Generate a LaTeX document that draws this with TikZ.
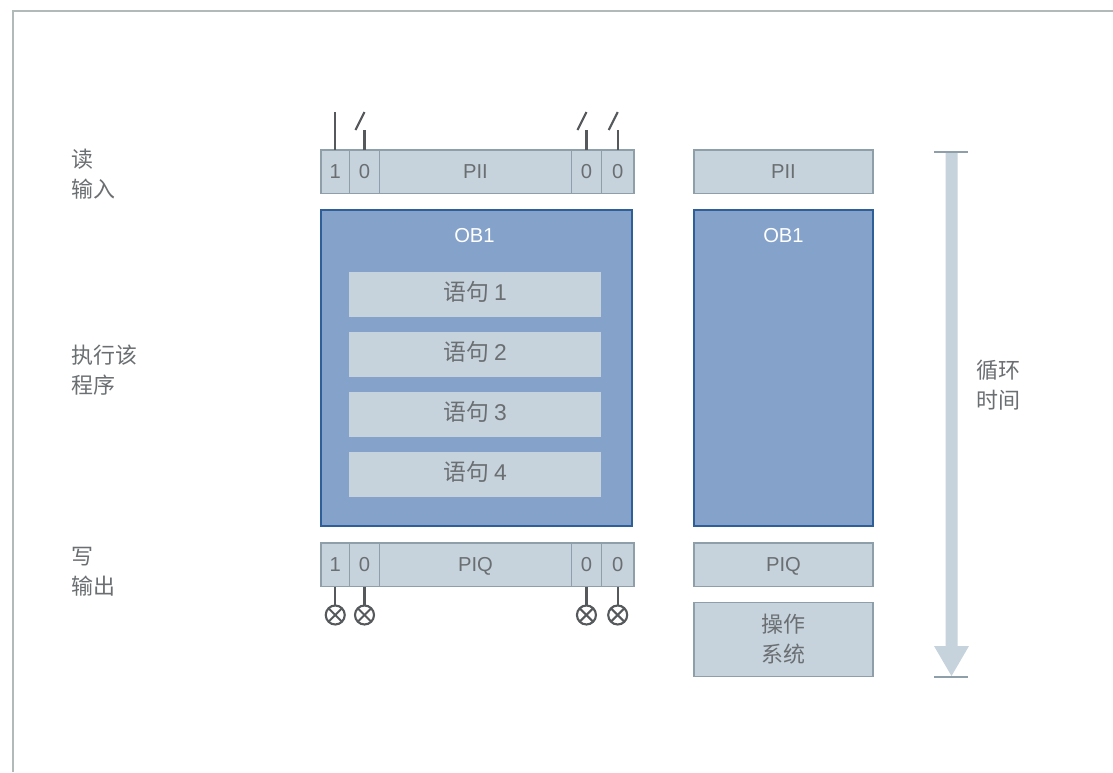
\documentclass[tikz,border=0pt]{standalone}
\usepackage{fontspec}
\setmainfont{Liberation Sans}
\newfontfamily\cjk{Noto Sans CJK SC}
\usetikzlibrary{positioning}
\definecolor{cellfill}{HTML}{C6D3DC}
\definecolor{celledge}{HTML}{8F9FA9}
\definecolor{obfill}{HTML}{84A2CA}
\definecolor{obedge}{HTML}{2F5F99}
\definecolor{labeltext}{HTML}{6B6F72}
\definecolor{wirecol}{HTML}{55595B}
\definecolor{framecol}{HTML}{B2BAB9}
\tikzset{
    cell/.style={rectangle, draw=celledge, fill=cellfill, line width=0.7pt, inner sep=0pt, outer sep=0pt,
        minimum height=0.87cm, text=labeltext, font=\fontsize{11.5}{13}\selectfont},
    flat_text/.style={text height=8.2pt, text depth=0pt},
    ob_block/.style={rectangle, draw=obedge, fill=obfill, line width=0.7pt, inner sep=0pt, outer sep=0pt},
    stmt/.style={rectangle, fill=cellfill, inner sep=0pt, outer sep=0pt, minimum width=5.04cm, minimum height=0.9cm,
        text=labeltext, text height=10pt, text depth=3.4pt, font=\fontsize{13}{15}\cjk},
    ob_title/.style={text=white, font=\fontsize{11.5}{13}\selectfont},
    side/.style={align=left, text=labeltext, inner sep=0pt, font=\fontsize{12.5}{17}\cjk},
    wire/.style={draw=wirecol, line width=1.2pt},
    lamp/.style={circle, draw=wirecol, line width=1.2pt, fill=white, minimum size=0.38cm, inner sep=0pt, outer sep=0pt,
        path picture={
            \draw[wirecol, line width=1.2pt] (path picture bounding box.north west) -- (path picture bounding box.south east);
            \draw[wirecol, line width=1.2pt] (path picture bounding box.north east) -- (path picture bounding box.south west);
        }},
}
\begin{document}
\begin{tikzpicture}
        [x=0.02cm, y=-0.02cm, node distance=0cm]
        \useasboundingbox (0,0) rectangle (1113,772);

        % Frame
        \coordinate (frame_a) at (13,772);
        \coordinate (frame_b) at (13,11);
        \coordinate (frame_c) at (1113,11);
        \draw[framecol, line width=1.4pt] (frame_a) -- (frame_b) -- (frame_c);

        % Input image
        \node[cell, anchor=north west, minimum width=0.57cm] (pii_a) at (321,150) {1};
        \node[cell, right=of pii_a, minimum width=0.6cm] (pii_b) {0};
        \node[cell, right=of pii_b, minimum width=3.84cm] (pii) {PII};
        \node[cell, right=of pii, minimum width=0.6cm] (pii_c) {0};
        \node[cell, right=of pii_c, minimum width=0.65cm] (pii_d) {0};

        % Program block with statements
        \node[ob_block, anchor=north west, minimum width=6.22cm, minimum height=6.32cm] (ob) at (321,210) {};
        \node[ob_title, below=0.24cm of ob.north, xshift=-0.04cm] (ob_label) {OB1};
        \node[stmt, anchor=north west] (stmt_a) at (349,272) {语句 {\fontspec{Liberation Sans}1}};
        \node[stmt, below=0.3cm of stmt_a] (stmt_b) {语句 {\fontspec{Liberation Sans}2}};
        \node[stmt, below=0.3cm of stmt_b] (stmt_c) {语句 {\fontspec{Liberation Sans}3}};
        \node[stmt, below=0.3cm of stmt_c] (stmt_d) {语句 {\fontspec{Liberation Sans}4}};

        % Output image
        \node[cell, anchor=north west, minimum width=0.57cm] (piq_a) at (321,543) {1};
        \node[cell, right=of piq_a, minimum width=0.6cm] (piq_b) {0};
        \node[cell, flat_text, right=of piq_b, minimum width=3.84cm] (piq) {PIQ};
        \node[cell, right=of piq, minimum width=0.6cm] (piq_c) {0};
        \node[cell, right=of piq_c, minimum width=0.65cm] (piq_d) {0};

        % Right column
        \node[cell, anchor=north west, minimum width=3.58cm] (pii_r) at (694,150) {PII};
        \node[ob_block, anchor=north west, minimum width=3.58cm, minimum height=6.32cm] (ob_r) at (694,210) {};
        \node[ob_title, below=0.24cm of ob_r.north] (ob_r_label) {OB1};
        \node[cell, flat_text, anchor=north west, minimum width=3.58cm] (piq_r) at (694,543) {PIQ};
        \node[cell, below=0.32cm of piq_r, minimum width=3.58cm, minimum height=1.48cm, align=center,
            font=\fontsize{12.5}{17}\cjk] (os) {操作\\系统};

        % Switches
        \coordinate[above=0.76cm of pii_a] (sw_a);
        \foreach \c in {b,c,d} {
            \coordinate[above=0.4cm of pii_\c] (sw_\c);
            \coordinate[above=0.76cm of pii_\c] (top_\c);
            \coordinate[left=0.18cm of sw_\c] (low_\c);
            \draw[wire] (pii_\c.north) -- (sw_\c);
            \draw[wire] (low_\c) -- (top_\c);
        }
        \draw[wire] (pii_a.north) -- (sw_a);

        % Lamps
        \foreach \c in {a,b,c,d} {
            \node[lamp, below=0.38cm of piq_\c] (lamp_\c) {};
            \draw[wire] (piq_\c.south) -- (lamp_\c.north);
        }

        % Side labels
        \node[side, anchor=north west] (read) at (71,148.5) {读\\输入};
        \node[side, anchor=north west] (run) at (71,345) {执行该\\程序};
        \node[side, anchor=north west] (write) at (71,547) {写\\输出};
        \node[side, anchor=north west] (cycle) at (976,360) {循环\\时间};

        % Cycle time arrow
        \coordinate (tick_a) at (934,152);
        \coordinate (tick_b) at (968,152);
        \coordinate (tick_c) at (934,677);
        \coordinate (tick_d) at (968,677);
        \fill[cellfill] (945.5,152) -- (957.5,152) -- (957.5,646) -- (969,646) -- (951.5,676) -- (934,646) -- (945.5,646) -- cycle;
        \draw[celledge, line width=0.7pt] (tick_a) -- (tick_b);
        \draw[celledge, line width=0.7pt] (tick_c) -- (tick_d);

\end{tikzpicture}
\end{document}
